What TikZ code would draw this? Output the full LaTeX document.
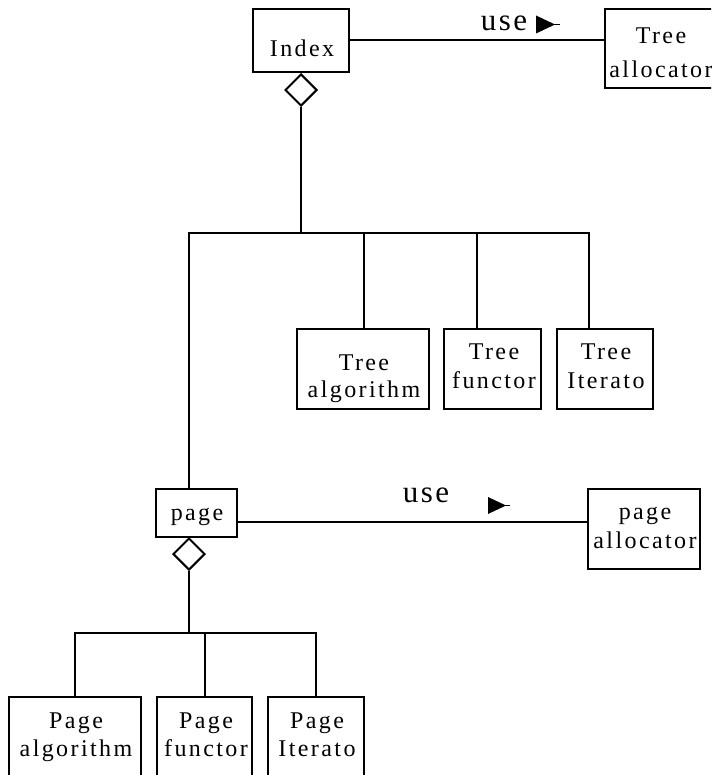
\documentclass[tikz,border=0pt]{standalone}
\usepackage{fontspec}
\setmainfont{Liberation Serif}
\newfontfamily\boxfont[LetterSpace=10]{Liberation Serif}
\newfontfamily\assocfont[LetterSpace=8]{Liberation Serif}
\usetikzlibrary{shapes.geometric}
\tikzset{
  box/.style={draw, rectangle, inner sep=0pt},
  diam/.style={draw, diamond, shape aspect=1, inner sep=0pt,
               minimum width=32pt, minimum height=32pt, fill=white},
  lbl/.style={anchor=base, inner sep=0pt, font=\boxfont\fontsize{24}{28}\selectfont},
  uselbl/.style={anchor=base, inner sep=0pt, font=\assocfont\fontsize{31}{36}\selectfont},
}
\begin{document}
\begin{tikzpicture}[x=1pt, y=-1pt, line width=2pt, line join=miter]
\useasboundingbox (0,0) rectangle (711,775);
\clip (0,0) rectangle (711,775);

% classes
\node[box, minimum width=96pt,  minimum height=63pt] (index)  at (301,40.5)   {};
\node[box, minimum width=111pt, minimum height=79pt] (talloc) at (660.5,48.5) {};
\node[box, minimum width=132pt, minimum height=80pt] (talg)   at (363,369)    {};
\node[box, minimum width=97pt,  minimum height=80pt] (tfun)   at (492.5,369)  {};
\node[box, minimum width=96pt,  minimum height=80pt] (titer)  at (605,369)    {};
\node[box, minimum width=81pt,  minimum height=48pt] (page)   at (196.5,513)  {};
\node[box, minimum width=112pt, minimum height=80pt] (palloc) at (644,529)    {};
\node[box, minimum width=132pt, minimum height=80pt] (palg)   at (75,737)     {};
\node[box, minimum width=95pt,  minimum height=80pt] (pfun)   at (204.5,737)  {};
\node[box, minimum width=96pt,  minimum height=80pt] (piter)  at (316,737)    {};

% aggregation diamonds
\node[diam, anchor=north] (idia) at (index.south) {};
\node[diam, anchor=north] (pdia) at (189,537) {};

% class names
\node[lbl] (index-t)   at (302,57)  {Index};
\node[lbl] (talloc-t1) at (661,44)  {Tree};
\node[lbl] (talloc-t2) at (661,78)  {allocator};
\node[lbl] (talg-t1)   at (364,370) {Tree};
\node[lbl] (talg-t2)   at (364,397) {algorithm};
\node[lbl] (tfun-t1)   at (494,359) {Tree};
\node[lbl] (tfun-t2)   at (494,388) {functor};
\node[lbl] (titer-t1)  at (606,359) {Tree};
\node[lbl] (titer-t2)  at (606,388) {Iterato};
\node[lbl] (page-t)    at (197,520) {page};
\node[lbl] (palloc-t1) at (645,519) {page};
\node[lbl] (palloc-t2) at (645,548) {allocator};
\node[lbl] (palg-t1)   at (76,728)  {Page};
\node[lbl] (palg-t2)   at (76,756)  {algorithm};
\node[lbl] (pfun-t1)   at (206,728) {Page};
\node[lbl] (pfun-t2)   at (206,756) {functor};
\node[lbl] (piter-t1)  at (317,728) {Page};
\node[lbl] (piter-t2)  at (317,756) {Iterato};

% "use" associations
\draw (index.east) -- (index.east -| talloc.west);
\node[uselbl] (use1) at (504,31) {use};
\fill (536,15.5) -- (536,33.5) -- (555,24.5) -- cycle;
\draw[line width=1pt] (554,24.5) -- (560,24.5);

\coordinate (pline) at (237,522);
\draw (pline) -- (pline -| palloc.west);
\node[uselbl] (use2) at (426,502) {use};
\fill (488,497) -- (488,514) -- (506,505.5) -- cycle;
\draw[line width=1pt] (505,505.5) -- (510,505.5);

% tree composition
\coordinate (tj)    at (301,233);
\coordinate (busL)  at (189,233);
\coordinate (busR)  at (589,233);
\coordinate (drop1) at (364,233);
\coordinate (drop2) at (477,233);
\draw (idia.south) -- (tj);
\draw (page.north -| busL) -- (busL) -- (busR) -- (busR |- titer.north);
\draw (drop1) -- (drop1 |- talg.north);
\draw (drop2) -- (drop2 |- tfun.north);

% page composition
\coordinate (pj) at (189,633);
\draw (pdia.south) -- (pj);
\draw (palg.north) -- (palg.north |- pj) -- (piter.north |- pj) -- (piter.north);
\draw (pfun.north |- pj) -- (pfun.north);
\end{tikzpicture}
\end{document}
